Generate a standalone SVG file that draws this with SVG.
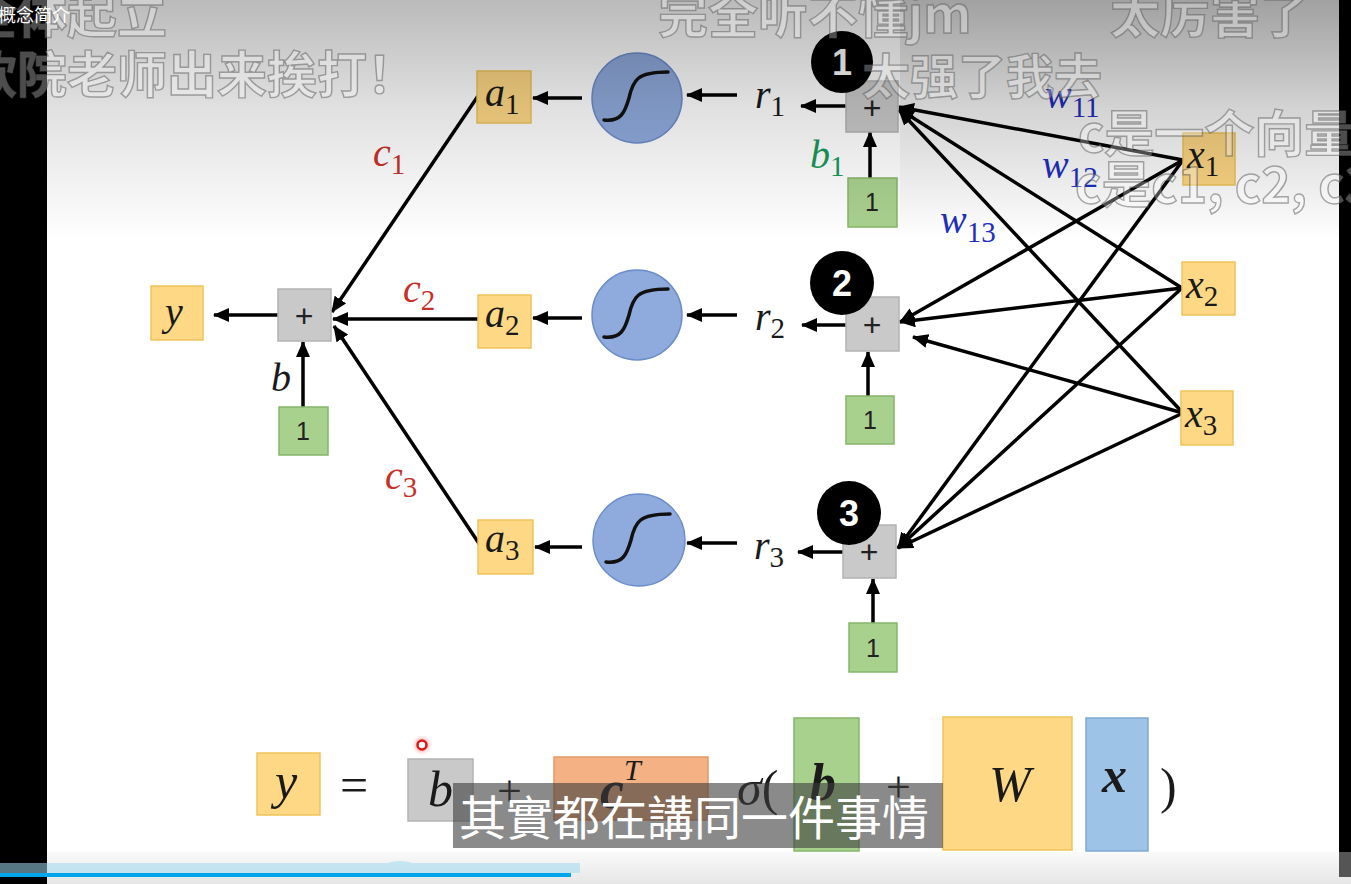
<svg xmlns="http://www.w3.org/2000/svg" width="1351" height="884" viewBox="0 0 1351 884">
<defs>
<linearGradient id="topShade" x1="0" y1="0" x2="0" y2="1">
<stop offset="0" stop-color="#000" stop-opacity="0.27"/>
<stop offset="0.45" stop-color="#000" stop-opacity="0.12"/>
<stop offset="1" stop-color="#000" stop-opacity="0"/>
</linearGradient>
<linearGradient id="botShade" x1="0" y1="0" x2="0" y2="1">
<stop offset="0" stop-color="#fafafa"/>
<stop offset="1" stop-color="#e6e6e6"/>
</linearGradient>
<marker id="ah" viewBox="0 0 16 14" refX="15" refY="7" markerWidth="16" markerHeight="14" markerUnits="userSpaceOnUse" orient="auto">
<path d="M0,0 L16,7 L0,14 Z" fill="#000"/>
</marker>
<radialGradient id="glow">
<stop offset="0" stop-color="#ff2020" stop-opacity="0.5"/>
<stop offset="1" stop-color="#ff2020" stop-opacity="0"/>
</radialGradient>
</defs>
<style>
.yel{fill:#ffd885;stroke:#efc35a;stroke-width:1.5}
.gry{fill:#c9c9c9;stroke:#b3b3b3;stroke-width:1.5}
.grn{fill:#a9d18e;stroke:#85b56a;stroke-width:1.5}
.sig{fill:#8faadc;stroke:#6d8ecb;stroke-width:1.5}
.blu{fill:#9dc3e6;stroke:#7fa9d3;stroke-width:1.5}
.org{fill:#f4b183;stroke:#e3996a;stroke-width:1.5}
.m{font-family:"Liberation Serif",serif;font-style:italic;font-size:40px;fill:#1a1a1a}
.s{font-style:normal;font-size:29px}
.mb{font-family:"Liberation Serif",serif;font-style:italic;font-weight:bold;fill:#1a1a1a}
.plus{font-family:"Liberation Sans",sans-serif;font-size:32px;fill:#222;text-anchor:middle}
.one{font-family:"Liberation Sans",sans-serif;font-size:25px;fill:#222;text-anchor:middle}
.num{font-family:"Liberation Sans",sans-serif;font-weight:bold;font-size:36px;fill:#fff;text-anchor:middle}
.con line{stroke:#000;stroke-width:3.5;marker-end:url(#ah)}
.dm{font-family:"Noto Sans CJK SC",sans-serif;font-weight:bold;font-size:50px;fill:#fff;fill-opacity:0.3;stroke:#555;stroke-opacity:0.5;stroke-width:1.4}
.sg{fill:none;stroke:#111;stroke-width:3.5;stroke-linecap:round}
</style>
<rect x="0" y="0" width="1351" height="884" fill="#ffffff"/>
<rect x="0" y="852" width="1351" height="32" fill="url(#botShade)"/>

<g id="connectors" class="con">
<line x1="737" y1="95" x2="687" y2="95"/>
<line x1="582" y1="98" x2="533" y2="98"/>
<line x1="846" y1="106" x2="801" y2="106"/>
<line x1="870" y1="178" x2="870" y2="132"/>
<line x1="737" y1="315" x2="687" y2="315"/>
<line x1="582" y1="318" x2="533" y2="318"/>
<line x1="846" y1="325" x2="802" y2="325"/>
<line x1="868" y1="396" x2="868" y2="352"/>
<line x1="737" y1="543" x2="687" y2="543"/>
<line x1="582" y1="547" x2="535" y2="547"/>
<line x1="843" y1="552" x2="798" y2="552"/>
<line x1="873" y1="623" x2="873" y2="579"/>
<line x1="478" y1="96" x2="332" y2="312"/>
<line x1="478" y1="319" x2="333" y2="319"/>
<line x1="480" y1="545" x2="334" y2="326"/>
<line x1="278" y1="315" x2="214" y2="315"/>
<line x1="303" y1="407" x2="303" y2="342"/>
<line x1="1183" y1="160" x2="899" y2="107"/>
<line x1="1182" y1="288" x2="899" y2="109"/>
<line x1="1183" y1="413" x2="899" y2="110"/>
<line x1="1183" y1="160" x2="900" y2="322"/>
<line x1="1182" y1="288" x2="900" y2="322"/>
<line x1="1183" y1="413" x2="913" y2="337"/>
<line x1="1183" y1="160" x2="898" y2="548"/>
<line x1="1182" y1="288" x2="898" y2="548"/>
<line x1="1183" y1="413" x2="898" y2="548"/>
</g>

<g id="x1"><rect class="yel" x="1183" y="133" width="52" height="52"/><text class="m" x="1187" y="168">x<tspan class="s" dy="8">1</tspan></text></g>
<g id="x2"><rect class="yel" x="1182" y="262" width="53" height="53"/><text class="m" x="1186" y="298">x<tspan class="s" dy="8">2</tspan></text></g>
<g id="x3"><rect class="yel" x="1181" y="391" width="52" height="54"/><text class="m" x="1185" y="427">x<tspan class="s" dy="8">3</tspan></text></g>

<g id="sum1"><rect class="gry" x="846" y="81" width="52" height="51"/><text class="plus" x="872" y="119">+</text></g>
<g id="sum2"><rect class="gry" x="846" y="297" width="53" height="54"/><text class="plus" x="872" y="336">+</text></g>
<g id="sum3"><rect class="gry" x="843" y="525" width="53" height="53"/><text class="plus" x="869" y="563">+</text></g>

<g id="badge1"><circle cx="842" cy="62" r="31" fill="#000"/><text class="num" x="842" y="75">1</text></g>
<g id="badge2"><circle cx="842" cy="283" r="32" fill="#000"/><text class="num" x="842" y="296">2</text></g>
<g id="badge3"><circle cx="849" cy="513" r="32" fill="#000"/><text class="num" x="849" y="526">3</text></g>

<g id="one1"><rect class="grn" x="848" y="178" width="49" height="49"/><text class="one" x="872" y="211">1</text></g>
<g id="one2"><rect class="grn" x="846" y="396" width="48" height="48"/><text class="one" x="870" y="429">1</text></g>
<g id="one3"><rect class="grn" x="849" y="623" width="48" height="49"/><text class="one" x="873" y="657">1</text></g>
<g id="one0"><rect class="grn" x="279" y="407" width="49" height="48"/><text class="one" x="303" y="440">1</text></g>

<g id="r1"><text class="m" x="755" y="108">r<tspan class="s" dy="8">1</tspan></text></g>
<g id="r2"><text class="m" x="755" y="330">r<tspan class="s" dy="8">2</tspan></text></g>
<g id="r3"><text class="m" x="754" y="559">r<tspan class="s" dy="8">3</tspan></text></g>

<g id="sig1"><circle class="sig" cx="637" cy="98" r="45"/><path class="sg" transform="translate(637,98)" d="M-33,22 C-16,24 -12,14 -8,0 C-4,-18 0,-26 31,-26"/></g>
<g id="sig2"><circle class="sig" cx="637" cy="315" r="45"/><path class="sg" transform="translate(637,315)" d="M-33,22 C-16,24 -12,14 -8,0 C-4,-18 0,-26 31,-26"/></g>
<g id="sig3"><circle class="sig" cx="639" cy="540" r="46"/><path class="sg" transform="translate(639,540)" d="M-33,22 C-16,24 -12,14 -8,0 C-4,-18 0,-26 31,-26"/></g>

<g id="a1"><rect class="yel" x="477" y="71" width="54" height="52"/><text class="m" x="485" y="106">a<tspan class="s" dy="8">1</tspan></text></g>
<g id="a2"><rect class="yel" x="478" y="295" width="53" height="53"/><text class="m" x="485" y="327">a<tspan class="s" dy="8">2</tspan></text></g>
<g id="a3"><rect class="yel" x="478" y="520" width="55" height="54"/><text class="m" x="485" y="552">a<tspan class="s" dy="8">3</tspan></text></g>

<g id="sum0"><rect class="gry" x="278" y="289" width="53" height="52"/><text class="plus" x="304" y="327">+</text></g>
<g id="yout"><rect class="yel" x="151" y="286" width="52" height="54"/><text class="m" x="165" y="325">y</text></g>
<text class="m" x="271" y="391">b</text>

<g id="labels">
<text class="m" x="373" y="166" style="fill:#c8302a">c<tspan class="s" dy="8">1</tspan></text>
<text class="m" x="403" y="302" style="fill:#c8302a">c<tspan class="s" dy="8">2</tspan></text>
<text class="m" x="385" y="489" style="fill:#c8302a">c<tspan class="s" dy="8">3</tspan></text>
<text class="m" x="810" y="168" style="fill:#15995a">b<tspan class="s" dy="8">1</tspan></text>
<text class="m" x="1045" y="108" style="fill:#1f2fbf">w<tspan class="s" dy="9">11</tspan></text>
<text class="m" x="1042" y="178" style="fill:#1f2fbf">w<tspan class="s" dy="9">12</tspan></text>
<text class="m" x="940" y="233" style="fill:#1f2fbf">w<tspan class="s" dy="9">13</tspan></text>
</g>

<g id="formula">
<rect class="yel" x="257" y="753" width="63" height="62"/>
<text class="m" x="275" y="798" style="font-size:50px">y</text>
<text x="340" y="802" font-family="Liberation Serif, serif" font-size="50" fill="#1a1a1a">=</text>
<rect class="gry" x="408" y="759" width="65" height="62"/>
<text class="m" x="428" y="806" style="font-size:50px">b</text>
<text x="497" y="806" font-family="Liberation Serif, serif" font-size="44" fill="#1a1a1a">+</text>
<rect class="org" x="554" y="757" width="154" height="63"/>
<text class="mb" x="600" y="808" font-size="54">c<tspan font-size="30" dy="-28" font-weight="normal">T</tspan></text>
<text x="737" y="805" font-family="Liberation Serif, serif" font-size="50" fill="#1a1a1a"><tspan font-style="italic">σ</tspan>(</text>
<rect class="grn" x="794" y="718" width="65" height="133"/>
<text class="mb" x="810" y="800" font-size="52">b</text>
<text x="886" y="802" font-family="Liberation Serif, serif" font-size="44" fill="#1a1a1a">+</text>
<rect class="yel" x="943" y="717" width="129" height="133"/>
<text class="m" x="989" y="801" style="font-size:50px">W</text>
<rect class="blu" x="1086" y="718" width="62" height="133"/>
<text class="mb" x="1102" y="792" font-size="50">x</text>
<text x="1160" y="803" font-family="Liberation Serif, serif" font-size="50" fill="#1a1a1a">)</text>
</g>

<rect x="0" y="0" width="1351" height="240" fill="url(#topShade)"/>
<rect x="900" y="0" width="451" height="240" fill="url(#topShade)" opacity="0.5"/>

<rect x="0" y="0" width="47" height="884" fill="#000"/>
<rect x="1339" y="0" width="12" height="852" fill="#000"/>
<rect x="1339" y="852" width="12" height="25" fill="#555"/>

<circle cx="422" cy="745" r="10" fill="url(#glow)"/>
<circle cx="422" cy="745" r="4.5" fill="#fff" stroke="#e31414" stroke-width="2.5"/>

<g id="subtitle">
<rect x="453" y="783" width="490" height="65" fill="#3c3c3c" fill-opacity="0.6"/>
<text x="459" y="835" font-family="Noto Sans CJK TC, sans-serif" font-size="47" fill="#fff">其實都在講同一件事情</text>
</g>

<g id="danmaku">
<text class="dm" x="-33" y="33">全体起立</text>
<text class="dm" x="-33" y="93">软院老师出来挨打！</text>
<text class="dm" x="658" y="33">完全听不懂jm</text>
<text class="dm" x="1110" y="33">太厉害了</text>
<text class="dm" x="862" y="94" style="font-size:48px">太强了我去</text>
<text class="dm" x="1078" y="152">c是一个向量</text>
<text class="dm" x="1075" y="203">c是c1, c2, c3</text>
</g>
<text x="-2" y="22" font-family="Noto Sans CJK SC, sans-serif" font-size="18" fill="#fff">概念简介</text>

<g id="progress">
<path d="M0,863 L388,863 Q394,861 400,861 Q406,861 412,863 L580,863 L580,873 L0,873 Z" fill="#9fd9f2" fill-opacity="0.55"/>
<rect x="0" y="873" width="571" height="4" fill="#00a6ea"/>
</g>
</svg>
